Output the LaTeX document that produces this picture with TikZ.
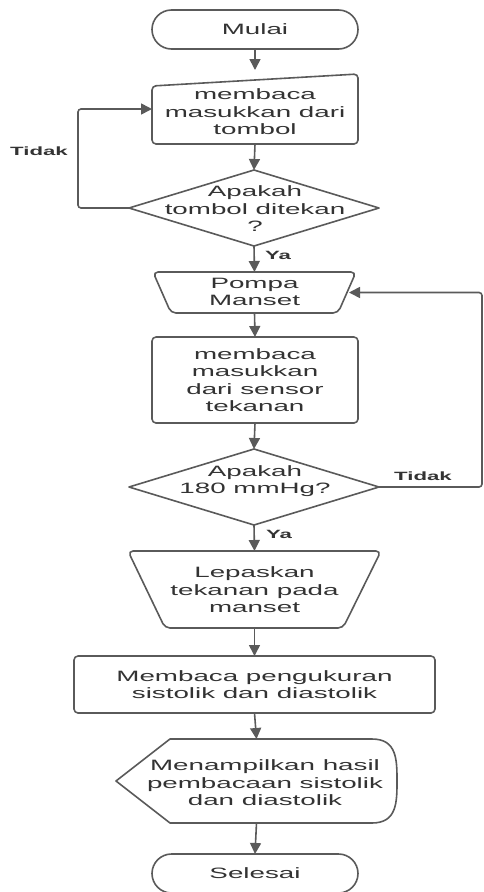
\documentclass[tikz,border=0pt]{standalone}
\usepackage{fontspec}
\setmainfont{Liberation Sans}[FakeStretch=1.85]
\usetikzlibrary{arrows.meta,shapes.misc,calc}
\definecolor{ln}{HTML}{5A5A5A}
\definecolor{tx}{HTML}{333333}
\begin{document}
\begin{tikzpicture}[x=1pt,y=-1pt,
  outl/.style={draw=ln,line width=1.6pt,fill=white,line join=round},
  conn/.style={draw=ln,line width=1.6pt,-{Triangle[length=11pt,width=11pt]}},
  box/.style={inner sep=0pt,outer sep=0pt,align=center,text=tx,
    font=\fontsize{15}{17.5}\selectfont},
  term/.style={box,rounded rectangle,draw=ln,line width=1.6pt,fill=white,
    minimum width=206pt,minimum height=39pt},
  lbl/.style={inner sep=0pt,text=tx,font=\fontsize{12}{14}\selectfont\bfseries}]
\useasboundingbox (0,0) rectangle (483,892);
\clip (0,0) rectangle (483,892);

% Mulai
\node[term] (mulai) at (255,29.5) {Mulai};

% manual input 1
\node[box,minimum width=206pt,minimum height=70pt] (in1) at (255,109) {};
\draw[outl,rounded corners=4pt] (152,86) -- (358,74) -- (358,144) -- (152,144) -- cycle;
\node[box] at (255,112) {membaca\\masukkan dari\\tombol};

% diamond 1
\node[box,minimum width=250pt,minimum height=76pt] (d1) at (254,208) {};
\draw[outl] (d1.north) -- (d1.east) -- (d1.south) -- (d1.west) -- cycle;
\node[box] at (255,209) {Apakah\\tombol ditekan\\?};

% Pompa Manset
\node[box,minimum width=203pt,minimum height=41pt] (pompa) at (254.5,292.5) {};
\draw[outl,rounded corners=5pt] (153,272) -- (356,272) -- (338,313) -- (171,313) -- cycle;
\node[box] at (254.5,292) {Pompa\\Manset};

% box 2
\node[box,outl,rounded corners=4pt,minimum width=206pt,minimum height=86pt] (b2) at (255,380)
  {membaca\\masukkan\\dari sensor\\tekanan};

% diamond 2
\node[box,minimum width=250pt,minimum height=76pt] (d2) at (254,487) {};
\draw[outl] (d2.north) -- (d2.east) -- (d2.south) -- (d2.west) -- cycle;
\node[box] at (255,481) {Apakah\\180 mmHg?};

% Lepaskan
\node[box,minimum width=253pt,minimum height=77pt] (lep) at (254.5,589.5) {};
\draw[outl,rounded corners=5pt] (128,551) -- (381,551) -- (343,628) -- (165,628) -- cycle;
\node[box] at (254.5,590) {Lepaskan\\tekanan pada\\manset};

% box 3
\node[box,outl,rounded corners=4pt,minimum width=361pt,minimum height=57pt] (b3) at (254.5,684.5)
  {Membaca pengukuran\\sistolik dan diastolik};

% display
\node[box,minimum width=281pt,minimum height=84pt] (disp) at (256.5,781) {};
\draw[outl] (116,781) -- (170,739) -- (372,739)
  .. controls (397,739) and (397,760) .. (397,781)
  .. controls (397,802) and (397,823) .. (372,823) -- (170,823) -- cycle;
\node[box] at (265,783) {Menampilkan hasil\\pembacaan sistolik\\dan diastolik};

% Selesai
\node[term] (selesai) at (255,873.5) {Selesai};

% connectors
\draw[conn,shorten >=4pt] (mulai.south) -- (in1.north);
\draw[conn] (in1.south) -- (d1.north);
\draw[conn,rounded corners=3pt] (d1.west) -- ++(-51,0) |- (in1.west);
\draw[conn] (d1.south) -- (pompa.north);
\draw[conn] (pompa.south) -- (b2.north);
\draw[conn] (b2.south) -- (d2.north);
\draw[conn,rounded corners=3pt,shorten >=-7pt] (d2.east) -- ++(103,0) |- (pompa.east);
\draw[conn] (d2.south) -- (lep.north);
\draw[conn] (lep.south) -- (b3.north);
\draw[conn] (b3.south) -- (disp.north);
\draw[conn] (disp.south) -- (selesai.north);

% labels
\node[lbl] (tidak1) at (39,151) {Tidak};
\node[lbl] (ya1) at (278,255) {Ya};
\node[lbl] (tidak2) at (423,476) {Tidak};
\node[lbl] (ya2) at (279,534) {Ya};
\end{tikzpicture}
\end{document}
